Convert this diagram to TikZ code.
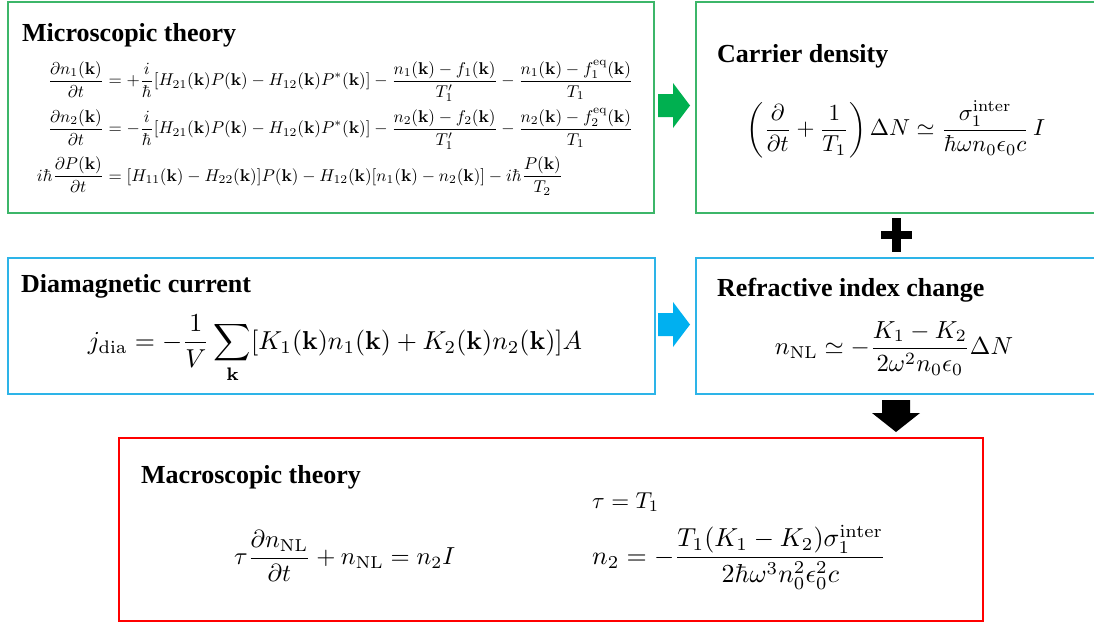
\documentclass[tikz,border=0pt]{standalone}
\usepackage{amsmath}
\usepackage{graphicx}
\usepackage[no-math]{fontspec}
\setmainfont{Liberation Serif}
\definecolor{boxgreen}{RGB}{60,182,105}
\definecolor{arrgreen}{RGB}{0,176,80}
\definecolor{boxblue}{RGB}{45,180,232}
\definecolor{arrblue}{RGB}{0,176,240}
\definecolor{boxred}{RGB}{255,0,0}
\newcommand{\kk}{\mathbf{k}}
\newcommand{\rsz}[2]{\resizebox{#1}{!}{$\displaystyle #2$}}
\begin{document}
\begin{tikzpicture}[x=1pt,y=-1pt,
  panel/.style={draw, line width=2pt, inner sep=0pt, anchor=north west},
  head/.style={font=\fontsize{26}{30}\selectfont\bfseries, anchor=base west, inner sep=0pt},
  eqn/.style={inner sep=0pt}]
\clip (0,0) rectangle (1094,622);
\fill[white] (0,0) rectangle (1094,622);

% panels
\node[panel, draw=boxgreen, minimum width=646pt, minimum height=211pt] (micro) at (7,1) {};
\node[panel, draw=boxgreen, minimum width=410pt, minimum height=211pt] (carr) at (695,1) {};
\node[panel, draw=boxblue, minimum width=647pt, minimum height=136pt] (dia) at (7,257) {};
\node[panel, draw=boxblue, minimum width=410pt, minimum height=136pt] (refr) at (695,257) {};
\node[panel, draw=boxred, minimum width=864pt, minimum height=183pt] (macro) at (118,437) {};

% headings
\node[head] (microT) at (22,41) {Microscopic theory};
\node[head] (carrT) at (717,62) {Carrier density};
\node[head] (diaT) at (21,292) {Diamagnetic current};
\node[head] (refrT) at (717,296) {Refractive index change};
\node[head] (macroT) at (141,483) {Macroscopic theory};

% equations
\node[eqn] (microEq) at (335,128) {\rsz{596pt}{\begin{aligned}
\frac{\partial n_1(\kk)}{\partial t} &= +\frac{i}{\hbar}[H_{21}(\kk)P(\kk)-H_{12}(\kk)P^*(\kk)]-\frac{n_1(\kk)-f_1(\kk)}{T_1'}-\frac{n_1(\kk)-f_1^{\mathrm{eq}}(\kk)}{T_1}\\
\frac{\partial n_2(\kk)}{\partial t} &= -\frac{i}{\hbar}[H_{21}(\kk)P(\kk)-H_{12}(\kk)P^*(\kk)]-\frac{n_2(\kk)-f_2(\kk)}{T_1'}-\frac{n_2(\kk)-f_2^{\mathrm{eq}}(\kk)}{T_1}\\
i\hbar\frac{\partial P(\kk)}{\partial t} &= [H_{11}(\kk)-H_{22}(\kk)]P(\kk)-H_{12}(\kk)[n_1(\kk)-n_2(\kk)]-i\hbar\frac{P(\kk)}{T_2}
\end{aligned}}};

\node[eqn] (carrEq) at (896,129.5) {\rsz{298pt}{\left(\frac{\partial}{\partial t}+\frac{1}{T_1}\right)\Delta N \simeq \frac{\sigma_1^{\mathrm{inter}}}{\hbar\omega n_0\epsilon_0 c}\,I}};

\node[eqn] (diaEq) at (335,349) {\rsz{494pt}{j_{\mathrm{dia}} = -\frac{1}{V}\sum_{\kk}[K_1(\kk)n_1(\kk)+K_2(\kk)n_2(\kk)]A}};

\node[eqn] (refrEq) at (894,348.5) {\rsz{238pt}{n_{\mathrm{NL}} \simeq -\frac{K_1-K_2}{2\omega^2 n_0\epsilon_0}\Delta N}};

\node[eqn, anchor=west] (macroEqA) at (234,556) {\rsz{221pt}{\tau\frac{\partial n_{\mathrm{NL}}}{\partial t}+n_{\mathrm{NL}} = n_2 I}};
\node[eqn, anchor=base west] (macroEqB) at (592,508) {\scalebox{2.3}{$\tau = T_1$}};
\node[eqn, anchor=west] (macroEqC) at (592,557) {\rsz{294pt}{n_2 = -\frac{T_1(K_1-K_2)\sigma_1^{\mathrm{inter}}}{2\hbar\omega^3 n_0^2\epsilon_0^2 c}}};

% block arrows
\fill[arrgreen] (658,94) -- (673,94) -- (673,83) -- (690,105.5) -- (673,128) -- (673,117) -- (658,117) -- cycle;
\fill[arrblue] (658,313) -- (673,313) -- (673,302) -- (690,324.5) -- (673,347) -- (673,336) -- (658,336) -- cycle;
% plus
\fill[black] (892,218) rectangle (901,252);
\fill[black] (881,231) rectangle (912,239);
% down arrow
\fill[black] (882,400) -- (910,400) -- (910,413) -- (920,413) -- (896,432) -- (872,413) -- (882,413) -- cycle;
\end{tikzpicture}
\end{document}
